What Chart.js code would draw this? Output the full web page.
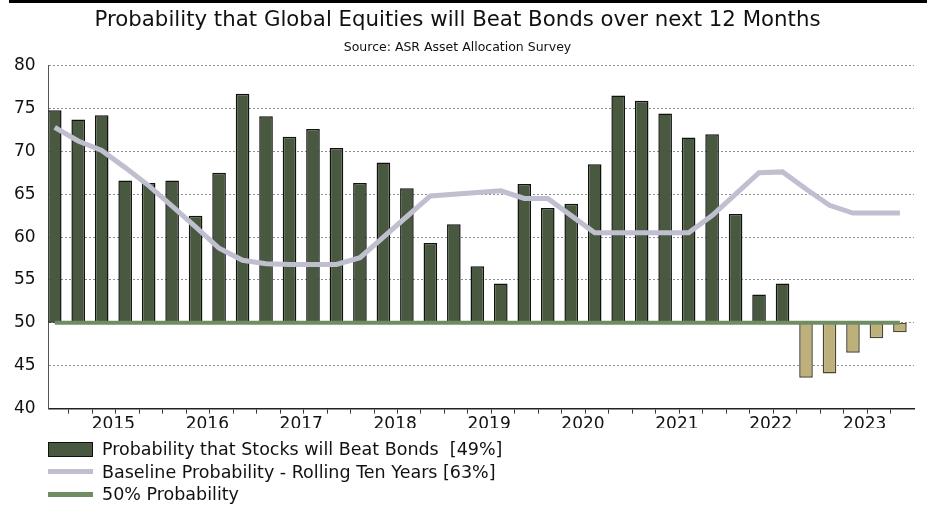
<!DOCTYPE html>
<html lang="en">
<head>
    <meta charset="UTF-8">
    <title>Equities vs Bonds</title>
    <script src="https://cdn.jsdelivr.net/npm/chart.js"></script>
    <style>
        body {
            margin: 0;
            background: white;
            font-family: 'DejaVu Sans', sans-serif;
        }

        .wrap {
            position: relative;
            width: 927px;
            height: 505px;
        }

        .top-rule {
            position: absolute;
            left: 9px;
            right: 0;
            top: 0;
            height: 3px;
            background: #000;
        }

        .legend {
            position: absolute;
            left: 48px;
            top: 438px;
            font-size: 17.5px;
            color: #111;
        }

        .legend div {
            display: flex;
            align-items: center;
            height: 22.5px;
        }

        .legend span.key {
            display: inline-block;
            width: 45px;
            margin-right: 9px;
            box-sizing: border-box;
        }
    </style>
</head>
<body>
<div class="wrap">
    <div class="top-rule"></div>
    <canvas id="probChart" width="927" height="505"></canvas>
    <div class="legend" id="legend"></div>
</div>

<script>
    // quarterly survey readings, 2014 Q4 .. 2023 Q4
    const quarters = [
        "2014 Q4",
        "2015 Q1", "2015 Q2", "2015 Q3", "2015 Q4",
        "2016 Q1", "2016 Q2", "2016 Q3", "2016 Q4",
        "2017 Q1", "2017 Q2", "2017 Q3", "2017 Q4",
        "2018 Q1", "2018 Q2", "2018 Q3", "2018 Q4",
        "2019 Q1", "2019 Q2", "2019 Q3", "2019 Q4",
        "2020 Q1", "2020 Q2", "2020 Q3", "2020 Q4",
        "2021 Q1", "2021 Q2", "2021 Q3", "2021 Q4",
        "2022 Q1", "2022 Q2", "2022 Q3", "2022 Q4",
        "2023 Q1", "2023 Q2", "2023 Q3", "2023 Q4"
    ];

    const years = ["2015", "2016", "2017", "2018", "2019", "2020", "2021", "2022", "2023"];

    const stocksBeatBonds = [
        74.8, 73.7, 74.2, 66.6, 66.3, 66.6, 62.5, 67.5,
        76.7, 74.1, 71.7, 72.6, 70.4, 66.3, 68.7, 65.7,
        59.3, 61.5, 56.6, 54.6, 66.2, 63.4, 63.9, 68.5,
        76.5, 75.9, 74.4, 71.6, 72.0, 62.7, 53.3, 54.6,
        43.6, 44.1, 46.5, 48.2, 48.9
    ];

    const baseline = [
        72.8, 71.2, 70.1, 68.1, 66.0, 63.6, 61.2, 58.7,
        57.3, 56.9, 56.8, 56.8, 56.8, 57.6, 60.0, 62.4,
        64.8, 65.0, 65.2, 65.4, 64.5, 64.5, 62.5, 60.5,
        60.5, 60.5, 60.5, 60.5, 62.5, 65.0, 67.5, 67.6,
        65.6, 63.7, 62.8, 62.8, 62.8
    ];

    const seriesNames = [
        "Probability that Stocks will Beat Bonds  [49%]",
        "Baseline Probability - Rolling Ten Years [63%]",
        "50% Probability"
    ];

    const upColor = "#49593f";
    const downColor = "#bdb07a";
    const baseColor = "#c0bfcf";
    const fiftyColor = "#6f8c62";

    const fontFamily = "'DejaVu Sans', sans-serif";

    // quarters sit at x = 0, 1, 2 ...; the year label goes between Q2 and Q3
    const yearCenters = years.map(y => quarters.indexOf(y + " Q2") + 0.5);
    const quarterTicks = quarters.slice(1).map((q, i) => i + 0.6);
    const xMin = -0.26, xMax = quarters.length - 0.4;

    const barPoints = stocksBeatBonds.map((v, i) => ({ x: i, y: [50, v] }));
    const basePoints = baseline.map((v, i) => ({ x: i, y: v }));
    const fiftyPoints = quarters.map((q, i) => ({ x: i, y: 50 }));

    const chart = new Chart(document.getElementById("probChart"), {
        type: "bar",
        data: {
            datasets: [
                {
                    label: seriesNames[0],
                    data: barPoints,
                    backgroundColor: stocksBeatBonds.map(v => v >= 50 ? upColor : downColor),
                    borderColor: stocksBeatBonds.map(v => v >= 50 ? "#111" : "#4a4535"),
                    borderWidth: 1.5,
                    borderSkipped: false,
                    barPercentage: 0.58,
                    categoryPercentage: 1,
                    order: 3
                },
                {
                    type: "line",
                    label: seriesNames[1],
                    data: basePoints,
                    borderColor: baseColor,
                    borderWidth: 5,
                    pointRadius: 0,
                    tension: 0,
                    order: 2
                },
                {
                    type: "line",
                    label: seriesNames[2],
                    data: fiftyPoints,
                    borderColor: fiftyColor,
                    borderWidth: 4,
                    pointRadius: 0,
                    order: 1
                }
            ]
        },
        options: {
            responsive: false,
            animation: false,
            layout: {
                padding: { left: 1, right: 13, top: 4, bottom: 77 }
            },
            plugins: {
                legend: { display: false },
                tooltip: { enabled: false },
                title: {
                    display: true,
                    text: "Probability that Global Equities will Beat Bonds over next 12 Months",
                    color: "#111",
                    font: { family: fontFamily, size: 21.3, weight: "normal" },
                    padding: { top: 4, bottom: 7 }
                },
                subtitle: {
                    display: true,
                    text: "Source: ASR Asset Allocation Survey",
                    color: "#111",
                    font: { family: fontFamily, size: 12.5 },
                    padding: { top: 0, bottom: 10 }
                }
            },
            scales: {
                // quarter tick marks along the bottom edge
                x: {
                    type: "linear",
                    offset: false,
                    min: xMin,
                    max: xMax,
                    afterBuildTicks: scale => {
                        scale.ticks = quarterTicks.map(v => ({ value: v }));
                    },
                    grid: {
                        offset: false,
                        drawOnChartArea: false,
                        drawTicks: true,
                        tickLength: 5,
                        color: "#333"
                    },
                    border: { color: "#222", width: 1.5 },
                    ticks: { display: false }
                },
                // year labels centred on each year
                years: {
                    type: "linear",
                    position: "bottom",
                    axis: "x",
                    offset: false,
                    min: xMin,
                    max: xMax,
                    afterBuildTicks: scale => {
                        scale.ticks = yearCenters.map(v => ({ value: v }));
                    },
                    grid: { display: false, offset: false },
                    border: { display: false },
                    ticks: {
                        autoSkip: false,
                        maxRotation: 0,
                        padding: -7,
                        color: "#111",
                        font: { family: fontFamily, size: 17 },
                        callback: value => years[yearCenters.indexOf(value)]
                    }
                },
                y: {
                    min: 40,
                    max: 80,
                    grid: {
                        // dotted lines, none on the bottom edge
                        color: ctx => ctx.tick && ctx.tick.value === 40 ? "rgba(0,0,0,0)" : "#8f8f8f",
                        lineWidth: 1,
                        drawTicks: false
                    },
                    border: { color: "#555", width: 1, dash: [2, 2] },
                    ticks: {
                        stepSize: 5,
                        padding: 13,
                        color: "#111",
                        font: { family: fontFamily, size: 17 }
                    }
                }
            }
        }
    });

    // legend block below the plot
    const legendEl = document.getElementById("legend");
    const keys = [
        `background:${upColor};height:15px;border:1.5px solid #111;`,
        `background:${baseColor};height:5px;`,
        `background:${fiftyColor};height:5px;`
    ];
    seriesNames.forEach((name, i) => {
        const row = document.createElement("div");
        row.innerHTML = `<span class="key" style="${keys[i]}"></span><span>${name.replace(/  /g, "&nbsp; ")}</span>`;
        legendEl.appendChild(row);
    });
</script>
</body>
</html>
